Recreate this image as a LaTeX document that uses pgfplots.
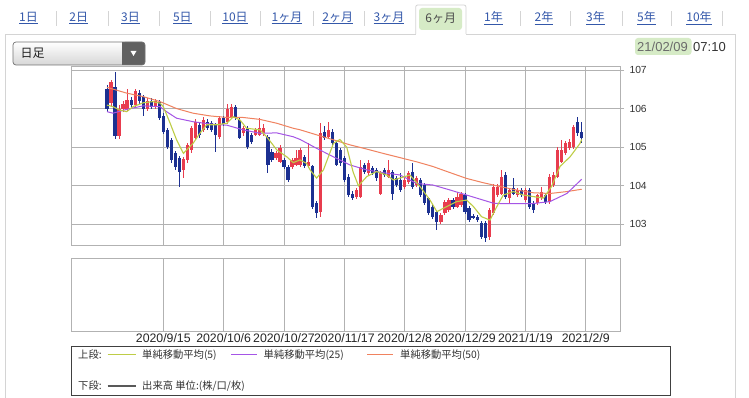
\documentclass[border=0pt]{standalone}
\usepackage{fontspec}
\setmainfont{Liberation Sans}
\newfontfamily\jp{Noto Sans CJK JP}
\usepackage{pgfplots}
\pgfplotsset{compat=1.18}
\usepackage{pgfplotstable}
\definecolor{upred}{RGB}{232,60,78}
\definecolor{dnblue}{RGB}{28,48,145}
\definecolor{maA}{RGB}{190,205,70}
\definecolor{maB}{RGB}{165,85,230}
\definecolor{maC}{RGB}{240,130,95}
\definecolor{gridc}{RGB}{178,178,178}
\definecolor{linkblue}{RGB}{52,88,170}
\definecolor{tabgreen}{RGB}{214,235,198}
\definecolor{panelc}{RGB}{212,212,212}

% rising candles (red): index open high low close
\pgfplotstableread{
i o h l c
2 106.15 106.75 106.05 106.70
4 105.30 106.10 105.22 106.00
5 106.00 106.20 105.90 106.12
6 106.00 106.50 105.95 106.22
8 106.10 106.52 106.05 106.45
11 106.00 106.28 105.95 106.20
13 106.05 106.25 105.98 106.20
20 104.40 104.75 104.20 104.70
21 104.67 105.12 104.60 105.06
22 104.93 105.55 104.85 105.50
23 105.25 105.72 105.20 105.65
25 105.45 105.78 105.40 105.70
29 105.27 105.80 105.22 105.75
31 105.66 106.12 105.60 106.00
32 105.79 106.12 105.72 106.05
35 105.36 105.55 105.30 105.49
38 105.32 105.50 105.28 105.45
39 105.32 105.76 105.28 105.50
40 105.36 105.60 105.30 105.50
43 104.72 104.90 104.66 104.85
44 104.62 105.06 104.58 104.98
47 104.50 104.72 104.44 104.67
48 104.54 104.93 104.50 104.72
49 104.54 104.98 104.48 104.93
51 104.50 105.10 104.45 104.62
54 103.32 105.63 103.20 105.37
56 105.27 105.66 105.22 105.45
63 103.72 103.95 103.66 103.89
64 103.72 104.67 103.68 104.50
66 104.33 104.66 104.28 104.60
69 103.80 104.38 103.75 104.32
71 104.24 104.67 104.20 104.41
75 103.97 104.20 103.92 104.15
76 104.11 104.38 104.06 104.32
78 104.02 104.25 103.98 104.20
84 103.07 103.30 103.02 103.24
85 103.29 103.64 103.25 103.59
86 103.37 103.68 103.32 103.63
88 103.46 103.85 103.42 103.72
89 103.50 103.85 103.45 103.80
96 102.68 103.42 102.60 103.37
97 103.30 104.05 103.25 103.98
98 103.76 104.05 103.70 103.98
99 103.80 104.41 103.75 104.24
101 103.68 103.95 103.55 103.89
103 103.76 103.95 103.70 103.89
105 103.63 103.95 103.58 103.89
108 103.55 103.80 103.50 103.76
109 103.68 103.98 103.62 103.85
111 103.59 104.30 103.54 104.24
112 104.02 104.35 103.98 104.28
113 104.24 105.00 104.20 104.93
114 104.62 105.19 104.58 104.93
115 104.84 105.15 104.80 105.10
116 104.97 105.20 104.92 105.14
117 105.01 105.58 104.96 105.53
}\candUp

% falling candles (blue)
\pgfplotstableread{
i o h l c
1 106.50 106.62 105.90 106.00
3 106.56 106.95 105.20 105.30
7 106.22 106.30 106.02 106.10
9 106.40 106.48 106.12 106.20
10 106.30 106.35 105.80 106.00
12 106.20 106.28 105.98 106.05
14 106.17 106.22 105.70 105.76
15 105.80 105.88 105.35 105.40
16 105.45 105.50 104.95 105.00
17 105.19 105.25 104.60 104.67
18 104.85 104.90 104.42 104.50
19 104.72 104.78 103.98 104.35
24 105.58 105.65 105.25 105.32
26 105.66 105.72 105.45 105.50
27 105.62 105.68 105.40 105.45
28 105.58 105.62 104.88 105.32
30 105.75 105.82 105.55 105.60
33 106.05 106.10 105.70 105.75
34 105.70 105.75 105.20 105.23
36 105.49 105.55 104.95 105.01
37 105.32 105.38 105.08 105.14
41 105.27 105.32 104.33 104.54
42 104.88 104.95 104.62 104.67
45 104.67 104.72 104.44 104.49
46 104.50 104.55 104.10 104.15
50 104.75 104.80 104.45 104.50
52 104.50 104.55 103.40 103.46
53 103.55 103.60 103.17 103.30
55 105.40 105.55 105.18 105.23
57 105.40 105.48 105.05 105.10
58 105.10 105.15 104.50 104.54
59 104.93 104.98 104.52 104.58
60 104.71 104.76 104.10 104.15
61 104.24 104.30 103.70 103.76
62 103.80 103.86 103.62 103.68
65 104.54 104.60 104.30 104.37
67 104.46 104.52 104.28 104.33
68 104.40 104.45 104.12 104.20
70 104.40 104.46 104.22 104.28
72 104.37 104.42 103.63 103.80
73 104.20 104.25 103.98 104.02
74 104.15 104.32 103.84 103.89
77 104.37 104.58 103.92 103.98
79 104.15 104.20 103.70 103.76
80 104.02 104.08 103.50 103.55
81 103.68 103.72 103.24 103.29
82 103.46 103.50 103.15 103.20
83 103.33 103.38 102.85 103.07
87 103.63 103.68 103.40 103.46
90 103.76 103.82 103.28 103.33
91 103.42 103.47 103.05 103.11
92 103.22 103.26 103.14 103.16
93 103.20 103.25 103.05 103.11
94 103.03 103.08 102.62 102.68
95 103.03 103.08 102.55 102.65
100 104.28 104.35 103.65 103.72
102 103.94 104.20 103.75 103.80
104 103.89 103.95 103.70 103.76
106 103.89 103.94 103.40 103.46
107 103.55 103.60 103.30 103.37
110 103.76 103.82 103.54 103.59
118 105.66 105.77 105.30 105.36
119 105.40 105.66 105.10 105.23
}\candDn

% simple moving average (5)
\pgfplotstableread{
i v
1 106.09
2.5 106.05
4.2 105.96
5.9 105.92
7.5 106.05
10 106.15
12.4 106.18
14.2 106.14
15 106.05
16.7 105.62
18.3 105.19
20 104.84
22.4 105.10
24.1 105.36
25.8 105.58
28.3 105.58
30.8 105.62
32.4 105.79
34.1 105.70
35.7 105.49
39 105.45
40.7 105.27
43.2 104.93
45.7 104.75
47.3 104.60
49 104.67
50.6 104.58
51.5 104.41
53.1 104.20
54.8 104.41
57.3 105.10
58.9 105.20
60.6 105.00
62.2 104.35
63.5 104.00
65.6 104.24
68 104.37
70.5 104.28
72.2 104.15
73.8 104.20
76.3 104.28
78.8 103.98
81.3 103.63
83 103.33
85.4 103.46
87.9 103.59
90.4 103.63
92.1 103.46
94.1 103.20
96.2 103.11
97.9 103.46
99.5 103.76
102 103.85
104.5 103.76
107 103.72
109.5 103.68
111.5 103.98
113.6 104.50
116.1 104.75
118.6 105.10
119 105.20
}\maFive

% simple moving average (25)
\pgfplotstableread{
i v
1 105.92
2.5 105.88
5.9 105.98
10 106.07
14.2 106.05
15.8 105.92
18.3 105.75
22.4 105.66
26.6 105.60
30.8 105.57
34.8 105.45
39 105.36
43.2 105.37
47.3 105.27
49 105.20
53.1 104.97
57.3 104.75
61.4 104.54
65.6 104.41
69.6 104.34
73.8 104.28
78 104.06
82 104.02
86.3 103.89
90.4 103.76
94.5 103.63
97 103.55
98.7 103.54
102.8 103.54
106.9 103.54
111.1 103.59
115.3 103.80
119 104.17
}\maTwentyFive

% simple moving average (50)
\pgfplotstableread{
i v
1 106.55
5.9 106.40
10 106.31
14.2 106.18
18.3 106.00
22.4 105.88
26.6 105.81
30.8 105.77
34.8 105.77
39 105.72
43.2 105.62
47.3 105.49
49 105.45
53.1 105.32
57.3 105.19
61.4 105.06
65.6 104.95
69.6 104.84
73.8 104.73
78 104.62
82 104.50
86.3 104.34
90.4 104.19
94.5 104.08
98.7 103.98
102.8 103.89
106.9 103.82
111.1 103.80
115.3 103.85
119 103.91
}\maFifty

\begin{document}
\begin{tikzpicture}[x=1pt,y=1pt]
\path[use as bounding box] (0,0) rectangle (749,398);
\fill[white] (0,0) rectangle (749,398);

% panel outline and tabs
\draw[panelc, line width=0.8pt] (5,0) -- (5,364) -- (415.7,364);
\draw[panelc, line width=0.8pt] (466,364) -- (735,364) -- (735,0);
\draw[panelc, line width=0.8pt, rounded corners=2pt] (415.7,364) -- (415.7,393) -- (466,393) -- (466,364);
\fill[tabgreen, rounded corners=3pt] (419,368) rectangle (462,390);
\node[font=\jp\fontsize{12}{14}\selectfont, text=black!70] at (440.7,380) {6ヶ月};
\foreach \xx/\lab in {28.5/1日, 78.8/2日, 130.5/3日, 182.4/5日, 235/10日, 287/1ヶ月, 337.7/2ヶ月, 389/3ヶ月, 493.5/1年, 544/2年, 595.5/3年, 646.5/5年, 699/10年}
  \node[font=\jp\fontsize{12}{14}\selectfont, text=linkblue] at (\xx,380) {\underline{\lab}};
\foreach \xx in {56,108,159.6,210,260.6,313.5,364,520,570.5,622.4,671.5,722}
  \draw[panelc, line width=0.8pt] (\xx,372) -- (\xx,387);

% dropdown
\shade[top color=white, bottom color=black!16, rounded corners=3pt] (13,333) rectangle (145,356);
\fill[black!62, rounded corners=3pt] (122,333) rectangle (145,356);
\fill[black!62] (122,333) rectangle (128,356);
\draw[black!55, rounded corners=3pt, line width=0.7pt] (13,333) rectangle (145,356);
\fill[white] (130.5,347) -- (136.5,347) -- (133.5,342) -- cycle;
\node[font=\jp\fontsize{12}{14}\selectfont, text=black!88, anchor=west] at (17,344.5) {日足};

% timestamp
\fill[tabgreen, rounded corners=3pt] (635,343) rectangle (691.5,360);
\node[font=\fontsize{13}{15}\selectfont, text=black!58, anchor=west, inner sep=0pt] at (637,351) {21/02/09};
\node[font=\fontsize{13}{15}\selectfont, text=black!80, anchor=west, inner sep=0pt] at (693,351) {07:10};

% main price panel
\begin{axis}[
  at={(71.7pt,152.3pt)}, anchor=south west, scale only axis,
  width=548.3pt, height=179pt,
  xmin=-7.77, xmax=128.52, ymin=102.448, ymax=107.085,
  xtick={15,30,...,120}, xticklabels={},
  ytick={103,104,105,106,107},
  ytick pos=right, yticklabel pos=right,
  xtick style={draw=none},
  ytick style={draw=gridc, line width=0.8pt},
  tick align=outside, major tick length=4pt,
  grid=major, major grid style={draw=gridc, line width=0.8pt},
  axis line style={draw=gridc, line width=0.8pt},
  /pgf/number format/assume math mode=true,
  yticklabel style={font=\fontsize{10.3}{12}\selectfont, text=black!80, xshift=2pt},
  candle/.style={draw=none, mark=none, forget plot, error bars/.cd, y dir=both, y explicit, error mark=none},
]
% wicks
\addplot[candle, error bar style={draw=upred, line width=0.9pt}]
  table[x=i, y expr={(\thisrow{h}+\thisrow{l})/2}, y error expr={(\thisrow{h}-\thisrow{l})/2}] {\candUp};
\addplot[candle, error bar style={draw=dnblue, line width=0.9pt}]
  table[x=i, y expr={(\thisrow{h}+\thisrow{l})/2}, y error expr={(\thisrow{h}-\thisrow{l})/2}] {\candDn};
% bodies
\addplot[candle, error bar style={draw=upred, line width=3.2pt}]
  table[x=i, y expr={(\thisrow{o}+\thisrow{c})/2}, y error expr={(\thisrow{c}-\thisrow{o})/2}] {\candUp};
\addplot[candle, error bar style={draw=dnblue, line width=3.2pt}]
  table[x=i, y expr={(\thisrow{o}+\thisrow{c})/2}, y error expr={(\thisrow{o}-\thisrow{c})/2}] {\candDn};
% moving averages
\addplot[maC, line width=1pt, mark=none] table[x=i, y=v] {\maFifty};
\addplot[maB, line width=1pt, mark=none] table[x=i, y=v] {\maTwentyFive};
\addplot[maA, line width=1.1pt, mark=none] table[x=i, y=v] {\maFive};
\end{axis}

% lower (volume) panel
\begin{axis}[
  at={(71.7pt,66.3pt)}, anchor=south west, scale only axis,
  width=548.3pt, height=73.4pt,
  xmin=-7.77, xmax=128.52, ymin=0, ymax=1,
  ytick=\empty,
  xtick={15,30,...,120},
  xticklabels={2020/9/15,2020/10/6,2020/10/27,2020/11/17,2020/12/8,2020/12/29,2021/1/19,2021/2/9},
  xtick style={draw=none},
  xmajorgrids, major grid style={draw=gridc, line width=0.8pt},
  axis line style={draw=gridc, line width=0.8pt},
  xticklabel style={font=\fontsize{12.3}{14}\selectfont, text=black!85, inner sep=1pt, yshift=-1pt},
]
\addplot[draw=none, mark=none] coordinates {(0,0.5)};
\end{axis}

% legend box
\draw[black!75, line width=0.8pt] (71,3) rectangle (670,52);
\begin{scope}[every node/.style={font=\jp\fontsize{10.3}{12}\selectfont, text=black!80, anchor=west, inner sep=0pt}]
\node at (78,43) {上段:};
\draw[maA, line width=1pt] (107.7,43) -- (135.8,43);
\node at (142,43) {単純移動平均(5)};
\draw[maB, line width=1pt] (231,43) -- (257,43);
\node at (263.5,43) {単純移動平均(25)};
\draw[maC, line width=1pt] (367.4,43) -- (393.4,43);
\node at (400,43) {単純移動平均(50)};
\node at (78,12) {下段:};
\draw[black!65, line width=2.4pt] (107.7,12) -- (135.8,12);
\node at (142,12) {出来高 単位:(株/口/枚)};
\end{scope}
\end{tikzpicture}
\end{document}
